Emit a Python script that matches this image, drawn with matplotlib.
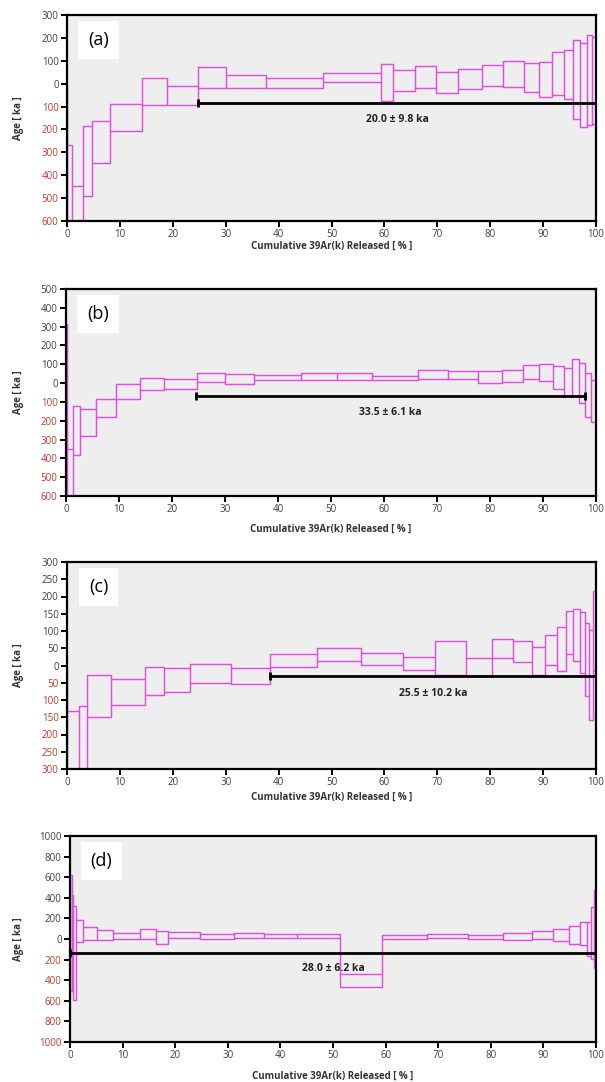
#!/usr/bin/env python3
"""Four-panel 40Ar/39Ar age spectra (a)-(d) with plateau ages."""

import matplotlib
matplotlib.use("Agg")
import matplotlib.pyplot as plt

plt.rcParams["font.family"] = ["Open Sans", "DejaVu Sans"]

# ============================================================================
# Data (cumulative 39Ar step edges, upper / lower 2-sigma bounds in ka)
# ============================================================================

a_edges = [0, 1.0, 3.0, 4.8, 8.1, 14.2, 18.9, 24.8, 30.0, 37.7, 48.4, 59.4,
           61.6, 65.8, 69.8, 73.9, 78.4, 82.4, 86.3, 89.3, 91.6, 93.9, 95.7,
           97.0, 98.3, 99.2, 100]
a_hi = [-270, -445, -183, -165, -91, 23, -10, 71, 36, 23, 45, 87, 61, 79, 53,
        62, 82, 97, 92, 94, 137, 147, 189, 176, 214, 205]
a_lo = [-700, -700, -489, -346, -206, -94, -94, -17, -19, -19, 7, -75, -33,
        -19, -40, -23, -9, -13, -38, -58, -51, -65, -154, -188, -180, -175]

b_edges = [0, 0.25, 1.35, 2.6, 5.6, 9.4, 13.9, 18.4, 24.8, 30.0, 35.5, 44.3,
           51.1, 57.7, 66.5, 72.1, 77.8, 82.3, 86.3, 89.2, 91.8, 93.9, 95.4,
           96.8, 97.9, 99.0, 100]
b_hi = [316, -350, -121, -140, -83, -3, 25, 20, 52, 46, 44, 53, 53, 37, 71,
        66, 62, 71, 98, 103, 89, 82, 126, 108, 53, 14]
b_lo = [-700, -700, -380, -282, -181, -83, -35, -32, 5, -3, 14, 18, 18, 14,
        23, 21, 2, 4, 21, 9, -30, -66, -66, -107, -181, -208]

c_edges = [0, 2.3, 3.7, 8.4, 14.8, 18.3, 23.3, 31.0, 38.4, 47.2, 55.5, 63.6,
           69.6, 75.4, 80.3, 84.4, 87.9, 90.4, 92.6, 94.3, 95.7, 96.9, 97.9,
           98.6, 99.5, 100]
c_hi = [-131, -117, -28, -38, -4, -6, 4, -8, 33, 52, 36, 26, 72, 23, 78, 70,
        53, 89, 111, 159, 163, 154, 123, 102, 215]
c_lo = [-400, -400, -150, -115, -86, -77, -51, -54, -3, 14, 2, -13, -27, -30,
        21, 9, -27, 2, -17, 33, 12, -22, -88, -158, -15]

d_edges = [0, 0.3, 0.6, 1.1, 2.5, 5.1, 8.1, 13.3, 16.4, 18.6, 24.8, 31.1,
           36.8, 43.2, 51.4, 59.3, 67.9, 75.6, 82.3, 87.9, 91.9, 94.9, 96.9,
           98.2, 99.1, 99.6, 100]
d_hi = [620, 430, 320, 187, 113, 90, 58, 97, 81, 68, 48, 58, 48, 52, -339,
        42, 45, 42, 58, 81, 97, 123, 161, 165, 310, 471]
d_lo = [-500, -460, -590, -32, -6, -6, 0, 0, -48, 10, 3, 10, 6, 8, -468, 0,
        10, 3, -6, 0, -16, -45, -61, -161, -194, -281]

# plateau: start %, end %, level (ka), label, label x, label y
plateaus = {
    "a": (24.8, 100, -84, "20.0 ± 9.8 ka", 62.4, -155),
    "b": (24.5, 97.9, -67, "33.5 ± 6.1 ka", 61.1, -155),
    "c": (38.4, 100, -30, "25.5 ± 10.2 ka", 69.3, -80),
    "d": (0, 100, -132, "28.0 ± 6.2 ka", 50.0, -290),
}

y_ranges = {
    "a": (-600, 300, 100),
    "b": (-600, 500, 100),
    "c": (-300, 300, 50),
    "d": (-1000, 1000, 200),
}

# axes boxes in pixels (left, top, right, bottom) of a 605x1082 canvas
boxes = {
    "a": (67, 15, 596, 221),
    "b": (66, 289, 596, 496),
    "c": (67, 562, 596, 769),
    "d": (70, 836, 596, 1042),
}
# x-label centre, pixels below the axes bottom
xlabel_drop = {"a": 25, "b": 33, "c": 28, "d": 34}

MAGENTA = "#DE4FDE"
RED = "#C0392B"
GREY = "#404040"
W, H = 605, 1082


def draw_panel(fig, key, edges, hi, lo):
    l, t, r, b = boxes[key]
    ax = fig.add_axes([l / W, 1 - b / H, (r - l) / W, (b - t) / H])
    ax.set_facecolor("#EEEEEE")

    # one box per heating step, plus the upper / lower step outlines
    widths = [edges[i + 1] - edges[i] for i in range(len(hi))]
    heights = [h - lo_ for h, lo_ in zip(hi, lo)]
    ax.bar(edges[:-1], heights, width=widths, bottom=lo, align="edge",
           fill=False, edgecolor=MAGENTA, linewidth=0.9, zorder=2)
    ax.stairs(hi, edges, color=MAGENTA, lw=0.9, zorder=2)
    ax.stairs(lo, edges, color=MAGENTA, lw=0.9, zorder=2)

    x0, x1, yp, txt, tx, ty = plateaus[key]
    ax.plot([x0, x1], [yp, yp], color="black", lw=2.0, zorder=3)
    ax.plot([x0, x1], [yp, yp], ls="none", marker="|", ms=6, mew=2,
            color="black", zorder=3)
    ax.text(tx, ty, txt, ha="center", va="center", fontsize=7.5,
            fontweight="bold", color="#222222")

    ymin, ymax, step = y_ranges[key]
    ticks = list(range(ymin, ymax + 1, step))
    ax.set_ylim(ymin, ymax)
    ax.set_yticks(ticks)
    ax.set_yticklabels([str(abs(v)) for v in ticks])
    for lab, v in zip(ax.get_yticklabels(), ticks):
        lab.set_color(RED if v < 0 else GREY)

    ax.set_xlim(0, 100)
    ax.set_xticks(range(0, 101, 10))
    ax.tick_params(axis="both", direction="out", length=4, width=1.4,
                   labelsize=7, pad=2)
    ax.tick_params(axis="x", labelcolor=GREY)
    ax.tick_params(top=False, right=False)
    for sp in ax.spines.values():
        sp.set_linewidth(1.6)
        sp.set_color("black")

    ax.set_xlabel("Cumulative 39Ar(k) Released [ % ]", fontsize=7,
                  fontweight="bold", color="#333333", va="center")
    ax.xaxis.set_label_coords(0.5, -xlabel_drop[key] / (b - t))
    ax.set_ylabel("Age [ ka ]", fontsize=7, fontweight="bold",
                  color="#333333", va="center")
    ax.yaxis.set_label_coords((18 - l) / (r - l), 0.5)

    ax.text(0.06, 0.88, f"({key})", transform=ax.transAxes, fontsize=13,
            ha="center", va="center", color="black",
            bbox=dict(facecolor="white", edgecolor="none",
                      boxstyle="square,pad=0.55"))
    return ax


def main():
    fig = plt.figure(figsize=(6.05, 10.82), dpi=100)
    draw_panel(fig, "a", a_edges, a_hi, a_lo)
    draw_panel(fig, "b", b_edges, b_hi, b_lo)
    draw_panel(fig, "c", c_edges, c_hi, c_lo)
    draw_panel(fig, "d", d_edges, d_hi, d_lo)
    fig.savefig("out.png", dpi=100)
    plt.close(fig)


if __name__ == "__main__":
    main()
